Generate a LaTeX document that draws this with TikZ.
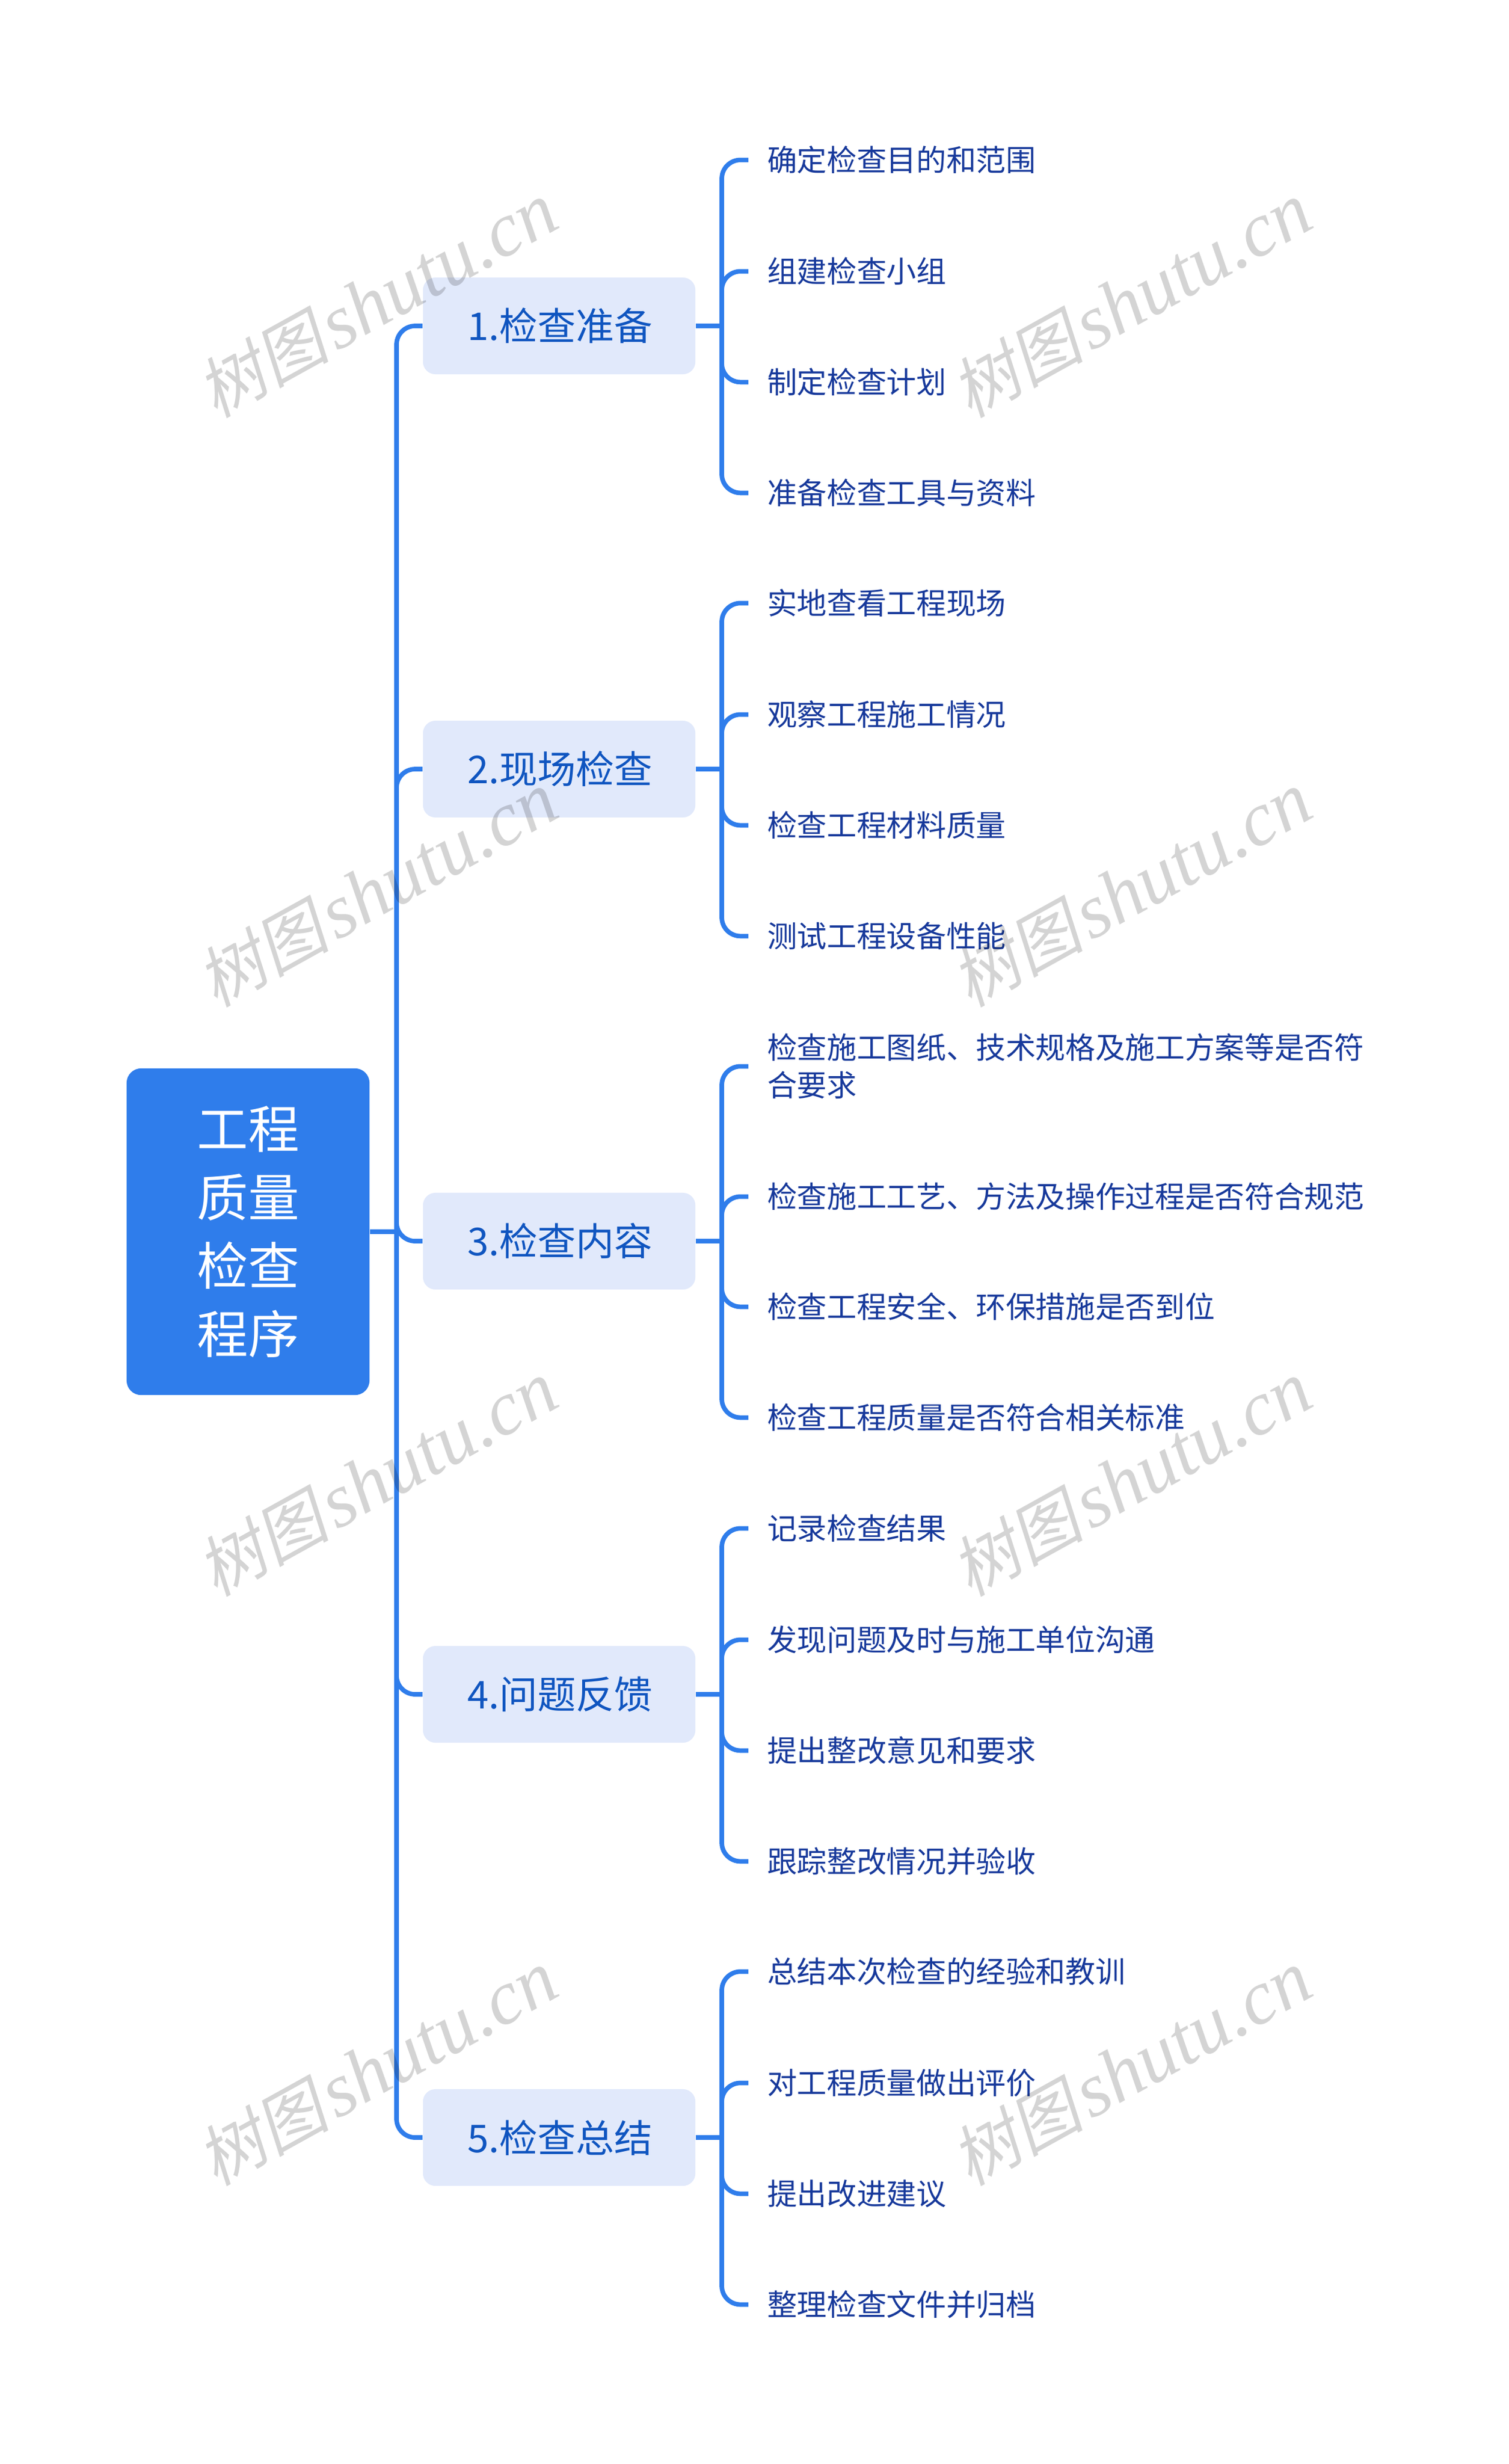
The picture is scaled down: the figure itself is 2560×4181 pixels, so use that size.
\documentclass[tikz,border=0pt]{standalone}
\usepackage{fontspec}
\setmainfont{Noto Sans CJK SC}
\newfontfamily\stampcjk[FakeSlant=0.2]{Noto Sans CJK SC}
\newfontfamily\stamplatin{Liberation Serif Italic}
\newcommand{\stampword}{{\fontsize{32}{38}\stampcjk\selectfont 树图}\hspace{3pt}{\fontsize{37}{38}\stamplatin\selectfont shutu.cn}}
\usepackage{tikz}
\definecolor{mainblue}{HTML}{2F7DEB}
\definecolor{paleblue}{HTML}{E1E9FB}
\definecolor{topicink}{HTML}{0F55C0}
\definecolor{itemink}{HTML}{17399B}
\tikzset{
    rootbox/.style={shape=rectangle, rounded corners=7pt, fill=mainblue, text=white, minimum width=4.12cm, minimum height=5.54cm, align=center, font=\fontsize{24.7}{33}\selectfont},
    topicbox/.style={shape=rectangle, rounded corners=6pt, fill=paleblue, text=topicink, minimum width=4.62cm, minimum height=1.64cm, font=\fontsize{18.5}{24}\selectfont},
    itembox/.style={anchor=west, inner xsep=0.315cm, inner ysep=0pt, yshift=-0.4pt, text=itemink, align=left, font=\fontsize{14.4}{18.2}\selectfont},
    wire/.style={draw=mainblue, line width=2.2pt, rounded corners=9pt},
    stamp/.style={rotate=29, text=black, text opacity=0.17, inner sep=0pt}
}
\begin{document}
\begin{tikzpicture}[x=0.01cm, y=-0.01cm]
    \useasboundingbox[fill=white] (0,0) rectangle (2560,4181);
    \node[rootbox] at (421,2090) (R0) {工程\\质量\\检查\\程序};
    \node[topicbox] at (949,553) (P1) {\hspace{1pt}1.检查准备};
    \node[topicbox] at (949,1305) (P2) {\hspace{1pt}2.现场检查};
    \node[topicbox] at (949,2106) (P3) {\hspace{1pt}3.检查内容};
    \node[topicbox] at (949,2875) (P4) {\hspace{1pt}4.问题反馈};
    \node[topicbox] at (949,3627) (P5) {\hspace{1pt}5.检查总结};
    \coordinate (H0) at (673,2090);
    \coordinate (H1) at (1225,553);
    \coordinate (H2) at (1225,1305);
    \coordinate (H3) at (1225,2106);
    \coordinate (H4) at (1225,2875);
    \coordinate (H5) at (1225,3627);
    % first group
    \node[itembox] at (1270,270) (Q11) {确定检查目的和范围};
    \node[itembox] at (1270,459) (Q12) {组建检查小组};
    \node[itembox] at (1270,647) (Q13) {制定检查计划};
    \node[itembox] at (1270,835) (Q14) {准备检查工具与资料};
    % second group
    \node[itembox] at (1270,1022) (Q21) {实地查看工程现场};
    \node[itembox] at (1270,1211) (Q22) {观察工程施工情况};
    \node[itembox] at (1270,1399) (Q23) {检查工程材料质量};
    \node[itembox] at (1270,1587) (Q24) {测试工程设备性能};
    % third group
    \node[itembox] at (1270,1808) (Q31) {检查施工图纸、技术规格及施工方案等是否符\\合要求};
    \node[itembox] at (1270,2029) (Q32) {检查施工工艺、方法及操作过程是否符合规范};
    \node[itembox] at (1270,2216) (Q33) {检查工程安全、环保措施是否到位};
    \node[itembox] at (1270,2404) (Q34) {检查工程质量是否符合相关标准};
    % fourth group
    \node[itembox] at (1270,2592) (Q41) {记录检查结果};
    \node[itembox] at (1270,2781) (Q42) {发现问题及时与施工单位沟通};
    \node[itembox] at (1270,2969) (Q43) {提出整改意见和要求};
    \node[itembox] at (1270,3157) (Q44) {跟踪整改情况并验收};
    % fifth group
    \node[itembox] at (1270,3344) (Q51) {总结本次检查的经验和教训};
    \node[itembox] at (1270,3533) (Q52) {对工程质量做出评价};
    \node[itembox] at (1270,3721) (Q53) {提出改进建议};
    \node[itembox] at (1270,3909) (Q54) {整理检查文件并归档};
    % connectors
    \draw[wire] (R0.east) -- (H0);
    \draw[wire] (H0) |- (P1.west);
    \draw[wire] (H0) |- (P2.west);
    \draw[wire] (H0) |- (P3.west);
    \draw[wire] (H0) |- (P4.west);
    \draw[wire] (H0) |- (P5.west);
    \draw[wire] (P1.east) -- (H1);
    \draw[wire] (H1) |- (Q11.west);
    \draw[wire] (H1) |- (Q12.west);
    \draw[wire] (H1) |- (Q13.west);
    \draw[wire] (H1) |- (Q14.west);
    \draw[wire] (P2.east) -- (H2);
    \draw[wire] (H2) |- (Q21.west);
    \draw[wire] (H2) |- (Q22.west);
    \draw[wire] (H2) |- (Q23.west);
    \draw[wire] (H2) |- (Q24.west);
    \draw[wire] (P3.east) -- (H3);
    \draw[wire] (H3) |- (Q31.west);
    \draw[wire] (H3) |- (Q32.west);
    \draw[wire] (H3) |- (Q33.west);
    \draw[wire] (H3) |- (Q34.west);
    \draw[wire] (P4.east) -- (H4);
    \draw[wire] (H4) |- (Q41.west);
    \draw[wire] (H4) |- (Q42.west);
    \draw[wire] (H4) |- (Q43.west);
    \draw[wire] (H4) |- (Q44.west);
    \draw[wire] (P5.east) -- (H5);
    \draw[wire] (H5) |- (Q51.west);
    \draw[wire] (H5) |- (Q52.west);
    \draw[wire] (H5) |- (Q53.west);
    \draw[wire] (H5) |- (Q54.west);
    % watermark
    \node[stamp] at (640,510) (W1) {\stampword};
    \node[stamp] at (1920,510) (W2) {\stampword};
    \node[stamp] at (640,1510) (W3) {\stampword};
    \node[stamp] at (1920,1510) (W4) {\stampword};
    \node[stamp] at (640,2510) (W5) {\stampword};
    \node[stamp] at (1920,2510) (W6) {\stampword};
    \node[stamp] at (640,3510) (W7) {\stampword};
    \node[stamp] at (1920,3510) (W8) {\stampword};
\end{tikzpicture}
\end{document}
